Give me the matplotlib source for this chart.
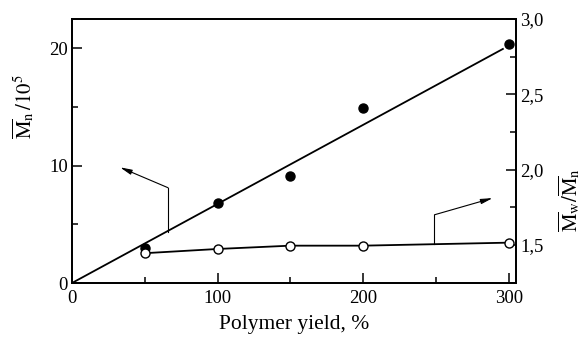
import matplotlib.pyplot as plt
from matplotlib.ticker import MultipleLocator, FuncFormatter

plt.rcParams['font.family'] = ['Liberation Serif', 'DejaVu Serif']
plt.rcParams['mathtext.fontset'] = 'stix'

# Data
yield_pct = [50, 100, 150, 200, 300]
mn = [2.95, 6.8, 9.1, 14.9, 20.4]            # Mn / 10^5 (filled)
pdi = [1.445, 1.473, 1.495, 1.495, 1.515]     # Mw/Mn (open)

fit_x = [0, 296]
fit_y = [0, 19.95]

# arrow paths: (start on curve, corner, head)
left_arrow = [(66, 4.37), (66, 8.12), (33, 9.86)]       # left axis units
right_arrow = [(249, 1.505), (249, 1.70), (289, 1.811)]  # right axis units

fig = plt.figure(figsize=(5.81, 3.38), dpi=100)
ax = fig.add_axes([0.1239, 0.1627, 0.7642, 0.781])
ax2 = ax.twinx()

ax.plot(fit_x, fit_y, color='k', lw=1.3)
ax.plot(yield_pct, mn, 'o', color='k', ms=6.5)
ax2.plot(yield_pct, pdi, '-o', color='k', lw=1.3, ms=6.5, mfc='white', mec='k', mew=1.0)

# arrows pointing at the axes
for a, axis in [(left_arrow, ax), (right_arrow, ax2)]:
    axis.plot([a[0][0], a[1][0]], [a[0][1], a[1][1]], color='k', lw=0.8)
    axis.annotate('', xy=a[2], xytext=a[1],
                  arrowprops=dict(arrowstyle='-|>,head_length=0.7,head_width=0.15',
                                  color='k', lw=0.8, shrinkA=0, shrinkB=0))

ax.set_xlim(0, 305)
ax.set_ylim(0, 22.5)
ax2.set_ylim(1.247, 3.0)

ax.xaxis.set_major_locator(MultipleLocator(100))
ax.xaxis.set_minor_locator(MultipleLocator(50))
ax.yaxis.set_major_locator(MultipleLocator(10))
ax.yaxis.set_minor_locator(MultipleLocator(5))
ax2.yaxis.set_major_locator(MultipleLocator(0.5))
ax2.yaxis.set_minor_locator(MultipleLocator(0.25))
ax2.yaxis.set_major_formatter(FuncFormatter(lambda v, p: ('%.1f' % v).replace('.', ',')))

for a in (ax, ax2):
    a.tick_params(which='both', direction='in', labelsize=13.5, width=1.1, pad=3)
    a.tick_params(which='major', length=7)
    a.tick_params(which='minor', length=4)
    for s in a.spines.values():
        s.set_linewidth(1.3)
ax.tick_params(axis='x', pad=5)
ax.tick_params(top=False, right=False)
ax2.tick_params(left=False, labelleft=False)

ax.set_xlabel('Polymer yield, %', fontsize=15.5, labelpad=6)
ax.set_ylabel(r'$\overline{\mathrm{M}}_{\mathrm{n}}\,/10^5$', fontsize=15)
ax.yaxis.set_label_coords(-0.08, 0.67)
ax2.set_ylabel(r'$\overline{\mathrm{M}}_{\mathrm{w}}/\overline{\mathrm{M}}_{\mathrm{n}}$', fontsize=15,
               rotation=90)
ax2.yaxis.set_label_coords(1.09, 0.314)

fig.savefig('out.png', dpi=100)
